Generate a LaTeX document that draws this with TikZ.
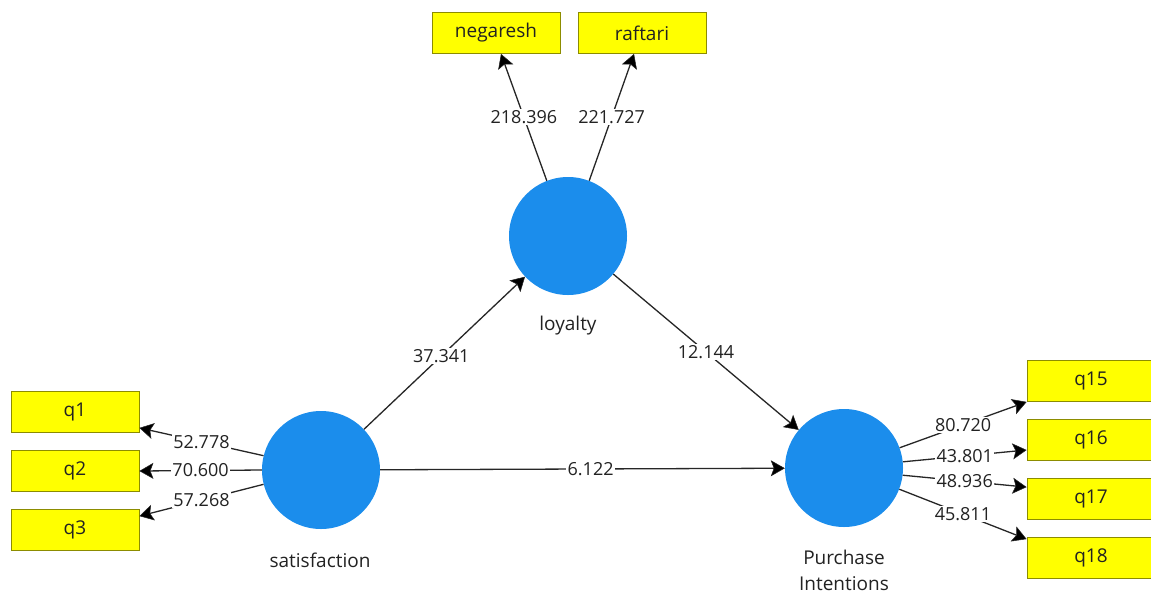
\documentclass[tikz,border=0pt]{standalone}
\usepackage{fontspec}
\setmainfont{Open Sans}
\usetikzlibrary{arrows.meta}
\definecolor{lvblue}{RGB}{27,141,236}
\definecolor{ind}{RGB}{255,255,0}
\definecolor{indb}{RGB}{140,140,0}
\definecolor{txt}{RGB}{34,34,34}
\tikzset{
  latent/.style={circle,fill=lvblue,draw=none,minimum size=118pt,inner sep=0pt},
  indic/.style={rectangle,fill=ind,draw=indb,line width=0.8pt,minimum width=128pt,minimum height=41pt,inner sep=0pt,font=\fontsize{19}{22}\selectfont,text=txt},
  lvname/.style={font=\fontsize{19}{26}\selectfont,text=txt,align=center},
  conn/.style={draw=black!85,line width=1.3pt,-{Stealth[length=14pt,width=16pt,inset=3pt,fill=black,line width=0.5pt]}},
  val/.style={fill=white,inner sep=1.5pt,font=\fontsize{18}{20}\selectfont,text=txt}
}
\begin{document}
\begin{tikzpicture}[x=1pt,y=-1pt]
\useasboundingbox[fill=white] (0,0) rectangle (1151,603);
% latent variables
\node[latent] (loy) at (568,236) {};
\node[latent] (sat) at (321,470) {};
\node[latent] (pi) at (844,468) {};
\node[lvname] (loyl) at (568,326) {loyalty};
\node[lvname] (satl) at (320,560) {satisfaction};
\node[lvname] (pil) at (844,570) {Purchase\\Intentions};
% indicators
\node[indic] (neg) at (496,33) {negaresh};
\node[indic] (raf) at (642,33) {raftari};
\node[indic] (q1) at (75,412) {q1};
\node[indic] (q2) at (75,471) {q2};
\node[indic] (q3) at (75,530) {q3};
\node[indic] (q15) at (1091,381) {q15};
\node[indic] (q16) at (1091,440) {q16};
\node[indic] (q17) at (1091,499) {q17};
\node[indic] (q18) at (1091,558) {q18};
% structural paths
\draw[conn] (sat) -- node[val,pos=0.48] {37.341} (loy);
\draw[conn] (loy) -- node[val,pos=0.5] {12.144} (pi);
\draw[conn] (sat) -- node[val,pos=0.52] {6.122} (pi);
% outer loadings
\draw[conn] (loy.111) -- node[val,pos=0.5] {218.396} ([xshift=5pt]neg.south);
\draw[conn] (loy.69) -- node[val,pos=0.5] {221.727} ([xshift=-8pt]raf.south);
\draw[conn] (sat.166) -- node[val,pos=0.5] {52.778} ([yshift=5pt]q1.south east);
\draw[conn] (sat.180) -- node[val,pos=0.5] {70.600} (q2.east);
\draw[conn] (sat.194) -- node[val,pos=0.5] {57.268} ([yshift=-7pt]q3.north east);
\draw[conn] (pi.20) -- node[val,pos=0.5] {80.720} (q15.south west);
\draw[conn] (pi.6) -- node[val,pos=0.5] {43.801} ([yshift=-10pt]q16.west);
\draw[conn] (pi.-7) -- node[val,pos=0.5] {48.936} ([yshift=-9pt]q17.north west);
\draw[conn] (pi.-21) -- node[val,pos=0.5] {45.811} ([yshift=-2pt]q18.north west);
\end{tikzpicture}
\end{document}
